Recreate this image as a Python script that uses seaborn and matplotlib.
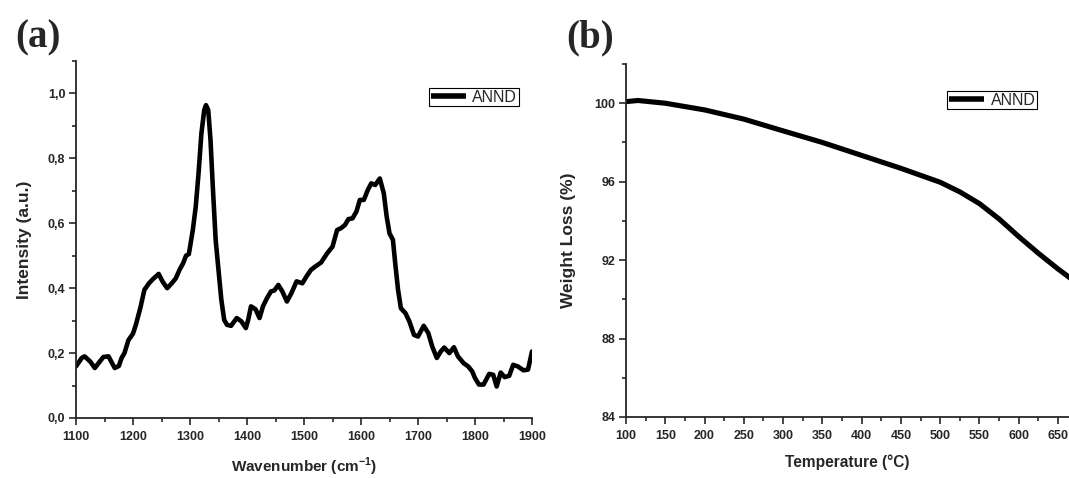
import numpy as np
import pandas as pd
import matplotlib
matplotlib.use("Agg")
import matplotlib.pyplot as plt
from matplotlib.ticker import MultipleLocator, FuncFormatter
import seaborn as sns

# ---- data (a) Raman spectrum ----
wavenumber = [1100, 1110, 1115, 1125, 1133, 1140, 1148, 1157, 1163, 1168, 1175, 1180, 1185,
              1192, 1200, 1205, 1213, 1220, 1228, 1235, 1245, 1252, 1260, 1268, 1275, 1282,
              1288, 1293, 1298, 1305, 1310, 1315, 1320, 1325, 1328, 1332, 1336, 1340, 1345,
              1350, 1355, 1360, 1365, 1372, 1382, 1390, 1398, 1402, 1407, 1415, 1422, 1428,
              1435, 1442, 1448, 1455, 1462, 1470, 1478, 1487, 1497, 1505, 1512, 1520, 1530,
              1540, 1550, 1558, 1565, 1572, 1578, 1585, 1592, 1598, 1605, 1612, 1618, 1625,
              1633, 1640, 1645, 1650, 1656, 1660, 1665, 1670, 1678, 1685, 1693, 1700, 1710,
              1718, 1725, 1733, 1740, 1746, 1755, 1763, 1770, 1780, 1788, 1795, 1800, 1807,
              1815, 1825, 1832, 1838, 1845, 1852, 1860, 1867, 1875, 1885, 1893, 1900]
intensity = [0.159, 0.185, 0.190, 0.174, 0.154, 0.170, 0.188, 0.190, 0.170, 0.154, 0.160, 0.185, 0.200,
             0.240, 0.260, 0.287, 0.340, 0.395, 0.415, 0.428, 0.444, 0.420, 0.400, 0.415, 0.430, 0.458,
             0.477, 0.500, 0.505, 0.580, 0.650, 0.754, 0.877, 0.949, 0.964, 0.949, 0.856, 0.713, 0.549,
             0.456, 0.364, 0.302, 0.287, 0.284, 0.308, 0.298, 0.277, 0.302, 0.344, 0.335, 0.308, 0.344,
             0.369, 0.390, 0.393, 0.410, 0.390, 0.359, 0.385, 0.421, 0.415, 0.438, 0.456, 0.467, 0.479,
             0.506, 0.528, 0.579, 0.585, 0.595, 0.613, 0.615, 0.636, 0.672, 0.672, 0.703, 0.723, 0.718,
             0.738, 0.692, 0.621, 0.569, 0.549, 0.477, 0.395, 0.338, 0.323, 0.297, 0.256, 0.251, 0.284,
             0.262, 0.220, 0.185, 0.205, 0.217, 0.200, 0.218, 0.190, 0.169, 0.159, 0.144, 0.123, 0.103,
             0.103, 0.136, 0.133, 0.097, 0.140, 0.126, 0.130, 0.164, 0.159, 0.147, 0.149, 0.205]

# ---- data (b) TGA ----
temperature = [100, 115, 150, 200, 250, 300, 350, 400, 450, 500, 525, 550, 575, 600, 625, 650, 670]
weight = [100.08, 100.14, 100.0, 99.66, 99.19, 98.59, 98.0, 97.34, 96.68, 95.97, 95.48, 94.88,
          94.1, 93.2, 92.35, 91.55, 90.95]

series_label = "ANND"

sns.set_style("ticks")
plt.rcParams["font.family"] = ["Liberation Sans", "DejaVu Sans"]
plt.rcParams["axes.linewidth"] = 1.3
for k in ("xtick.major.width", "ytick.major.width", "xtick.minor.width", "ytick.minor.width"):
    plt.rcParams[k] = 1.2
plt.rcParams["xtick.direction"] = "out"
plt.rcParams["ytick.direction"] = "out"

fig = plt.figure(figsize=(10.69, 4.78), dpi=100)

df_a = pd.DataFrame({"x": wavenumber, "y": intensity})
df_b = pd.DataFrame({"x": temperature, "y": weight})

W, H = 1069, 478
ax1 = fig.add_axes([76/W, 1-418/H, 456/W, 357/H])
ax2 = fig.add_axes([626/W, 1-417/H, 443/W, 353/H])

sns.lineplot(data=df_a, x="x", y="y", ax=ax1, color="black", lw=3.3, label=series_label,
             estimator=None, sort=False)
sns.lineplot(data=df_b, x="x", y="y", ax=ax2, color="black", lw=3.7, label=series_label,
             estimator=None, sort=False)

# axis (a)
ax1.set_xlim(1100, 1900)
ax1.set_ylim(0, 1.1)
ax1.xaxis.set_major_locator(MultipleLocator(100))
ax1.xaxis.set_minor_locator(MultipleLocator(50))
ax1.yaxis.set_major_locator(MultipleLocator(0.2))
ax1.yaxis.set_minor_locator(MultipleLocator(0.1))
ax1.yaxis.set_major_formatter(FuncFormatter(lambda v, p: f"{v:.1f}".replace(".", ",")))
ax1.set_xlabel("Wavenumber (cm$^{\\mathregular{-1}}$)", fontsize=11, fontweight="bold", labelpad=9)
ax1.set_ylabel("Intensity (a.u.)", fontsize=12.5, fontweight="bold", labelpad=11)

# axis (b)
ax2.set_xlim(100, 664)
ax2.set_ylim(84, 102)
ax2.xaxis.set_major_locator(MultipleLocator(50))
ax2.xaxis.set_minor_locator(MultipleLocator(25))
ax2.yaxis.set_major_locator(MultipleLocator(4))
ax2.yaxis.set_minor_locator(MultipleLocator(2))
ax2.set_xlabel("Temperature (°C)", fontsize=11.2, fontweight="bold", labelpad=9)
ax2.set_ylabel("Weight Loss (%)", fontsize=12.5, fontweight="bold", labelpad=13)

for ax in (ax1, ax2):
    sns.despine(ax=ax)
    ax.tick_params(which="major", length=4.7)
    ax.tick_params(which="minor", length=2.6)
    ax.tick_params(axis="x", which="major", pad=4.5)
    ax.tick_params(axis="y", which="major", pad=3)
    for lab in ax.get_xticklabels() + ax.get_yticklabels():
        lab.set_fontsize(9)
        lab.set_fontweight("bold")

leg_kw = dict(loc="upper right", frameon=True, fancybox=False, edgecolor="black",
              fontsize=11.5, handlelength=2.2, handletextpad=0.4, borderpad=0.1,
              borderaxespad=0.0)
l1 = ax1.legend(bbox_to_anchor=(0.971, 0.924), **leg_kw)
l2 = ax2.legend(bbox_to_anchor=((1037-626)/443, 0.9235), **leg_kw)
for l in (l1, l2):
    l.get_frame().set_linewidth(0.8)
    l.get_frame().set_alpha(1)
    for h in l.get_lines():
        h.set_linewidth(4)
        h.set_solid_capstyle("butt")

serif = ["Liberation Serif", "DejaVu Serif"]
fig.text(15/W, 1-47/H, "(a)", fontsize=28, fontweight="bold", family=serif)
fig.text(566/W, 1-47/H, "(b)", fontsize=28, fontweight="bold", family=serif)

fig.savefig("out.png", dpi=100)
